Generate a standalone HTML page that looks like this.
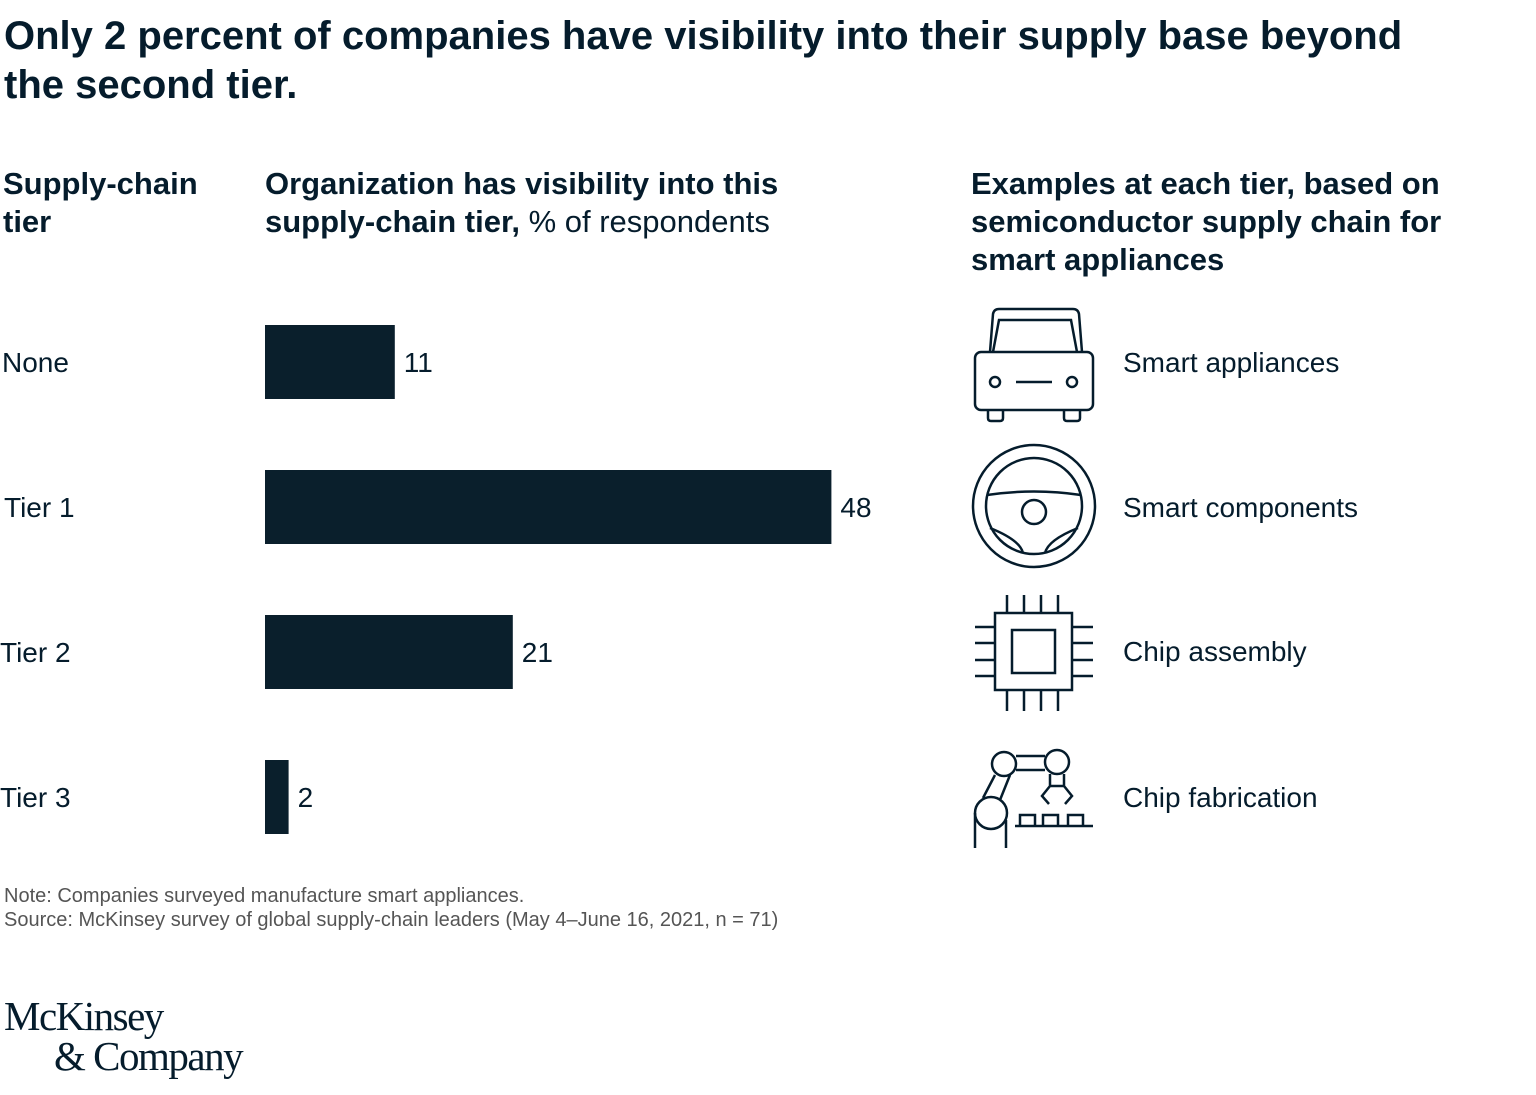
<!DOCTYPE html>
<html><head><meta charset="utf-8"><style>
body{margin:0;width:1536px;height:1095px;background:#fff;font-family:"Liberation Sans",sans-serif;color:#051c2c;position:relative;overflow:hidden}
.a{position:absolute;white-space:nowrap}
.t{font-size:40px;font-weight:bold;line-height:49px;left:4px;top:12px}
.h{font-size:31px;font-weight:bold;line-height:38px}
.l{font-size:28px;line-height:30px}
.n{font-size:20px;color:#555;line-height:24px}
</style></head><body>
<div class="a t">Only 2 percent of companies have visibility into their supply base beyond<br>the second tier.</div>
<div class="a h" style="left:3px;top:165px">Supply-chain<br>tier</div>
<div class="a h" style="left:265px;top:165px">Organization has visibility into this<br>supply-chain tier, <span style="font-weight:normal">% of respondents</span></div>
<div class="a h" style="left:971px;top:165px">Examples at each tier, based on<br>semiconductor supply chain for<br>smart appliances</div>
<svg class="a" style="left:0;top:0" width="1536" height="1095" id="chart">
<g stroke="#051c2c" stroke-width="2.5" fill="none">
<g>
<path d="M990 352 L993 314 Q994 309 999 309 L1073 309 Q1078 309 1079 314 L1082 352"/>
<path d="M993 352 L999 320 L1071 320 L1077 352"/>
<rect x="975" y="352" width="118" height="58" rx="6"/>
<circle cx="995" cy="382" r="5"/><circle cx="1072" cy="382" r="5"/>
<line x1="1016" y1="382" x2="1052" y2="382"/>
<path d="M988 410 L988 418 Q988 421 991 421 L1000 421 Q1003 421 1003 418 L1003 410"/>
<path d="M1064 410 L1064 418 Q1064 421 1067 421 L1077 421 Q1080 421 1080 418 L1080 410"/>
</g>
<g>
<circle cx="1034" cy="506" r="61"/><circle cx="1034" cy="506" r="48"/>
<circle cx="1034" cy="512" r="12"/>
<path d="M987 495 Q1034 488 1081 495"/>
<path d="M990 528 Q1020 540 1023 553"/><path d="M1078 528 Q1048 540 1045 553"/>
</g>
<g>
<rect x="995" y="613" width="77" height="77"/><rect x="1012" y="630" width="43" height="43"/>
<path d="M1007 595V613M1024 595V613M1041 595V613M1058 595V613M1007 690V711M1024 690V711M1041 690V711M1058 690V711M975 627H995M975 643H995M975 660H995M975 676H995M1072 627H1093M1072 643H1093M1072 660H1093M1072 676H1093"/>
</g>
<g>
<circle cx="991" cy="813" r="16"/><circle cx="1004" cy="764" r="12"/><circle cx="1057" cy="762" r="12"/>
<path d="M1016 756H1045M1016 770H1045M983 798L995 775M1000 800L1010 775M1050 774V786M1064 774V786M1050 786H1064M1050 786L1042 796L1049 804M1064 786L1072 796L1065 804"/>
<path d="M975 813V848M1006 820V848M1015 826H1093M1020 826V815H1035V826M1043 826V815H1058V826M1068 826V815H1083V826"/>
</g>
</g>
</svg>
<div class="a l" style="left:1123px;top:348px">Smart appliances</div>
<div class="a l" style="left:1123px;top:493px">Smart components</div>
<div class="a l" style="left:1123px;top:637px">Chip assembly</div>
<div class="a l" style="left:1123px;top:783px">Chip fabrication</div>
<div class="a n" style="left:4px;top:884px">Note: Companies surveyed manufacture smart appliances.<br>Source: McKinsey survey of global supply-chain leaders (May 4–June 16, 2021, n = 71)</div>
<div class="a" style="left:4px;top:996px;font-family:'Liberation Serif',serif;font-size:41px;line-height:40px;letter-spacing:-1.5px">McKinsey<br><span style="margin-left:50px">&amp; Company</span></div>
<script>
const categories=["None","Tier 1","Tier 2","Tier 3"];
const values=[11,48,21,2];
const svg=document.getElementById('chart');
const NS='http://www.w3.org/2000/svg';
const x=v=>265+v*11.8;
const yTop=i=>325+i*145;
categories.forEach((c,i)=>{
  const r=document.createElementNS(NS,'rect');
  r.setAttribute('x',265);r.setAttribute('y',yTop(i));
  r.setAttribute('width',x(values[i])-265);r.setAttribute('height',74);
  r.setAttribute('fill','#0a1f2c');
  
  
  svg.appendChild(r);
  const v=document.createElementNS(NS,'text');
  v.setAttribute('x',x(values[i])+9);v.setAttribute('y',yTop(i)+47);
  v.setAttribute('font-size','28');v.setAttribute('fill','#051c2c');
  v.setAttribute('font-family','Liberation Sans, sans-serif');
  v.textContent=values[i];
  
  
  svg.appendChild(v);
  const l=document.createElementNS(NS,'text');
  l.setAttribute('x',i==0?2:(i==1?4:0));l.setAttribute('y',yTop(i)+47);
  l.setAttribute('font-size','28');l.setAttribute('fill','#051c2c');
  l.setAttribute('font-family','Liberation Sans, sans-serif');
  l.textContent=c;
  
  
  svg.appendChild(l);
});
</script>
</body></html>
